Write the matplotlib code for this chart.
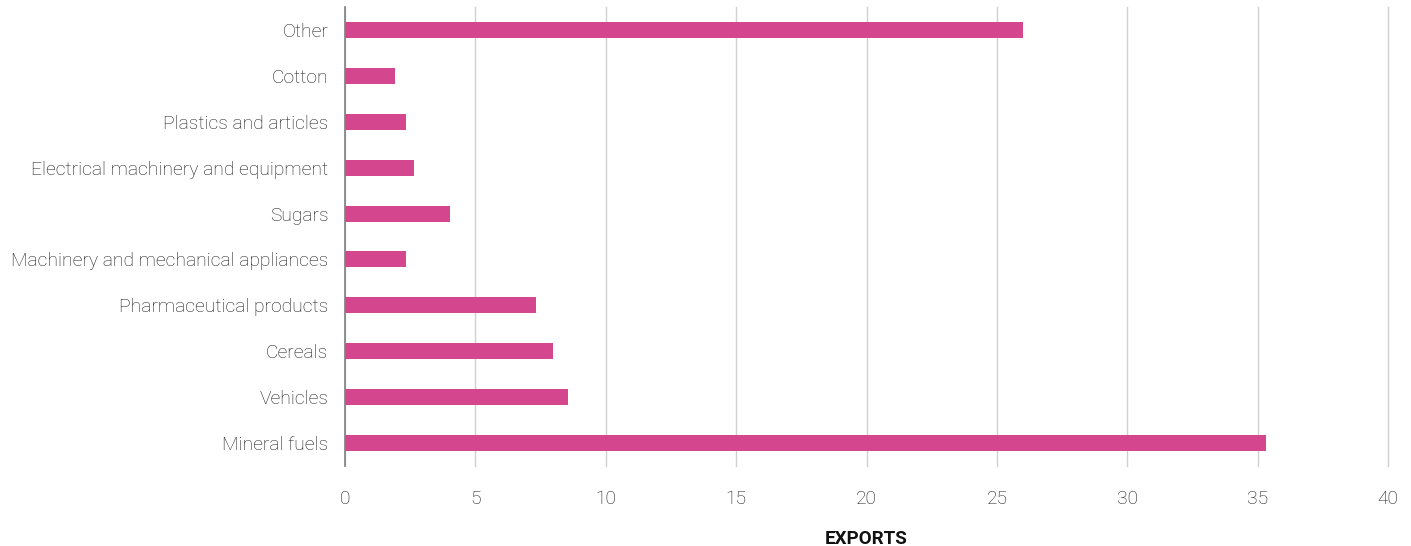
import matplotlib
matplotlib.use('Agg')
import matplotlib.pyplot as plt

plt.rcParams['font.family'] = ['Roboto', 'DejaVu Sans']

# データ（下から上の順）
categories = ['Mineral fuels', 'Vehicles', 'Cereals', 'Pharmaceutical products',
              'Machinery and mechanical appliances', 'Sugars',
              'Electrical machinery and equipment', 'Plastics and articles',
              'Cotton', 'Other']
exports = [35.33, 8.55, 7.98, 7.33, 2.34, 4.03, 2.65, 2.34, 1.92, 26.0]
xticks = [0, 5, 10, 15, 20, 25, 30, 35, 40]

fig = plt.figure(figsize=(14.11, 5.46), dpi=100)
ax = fig.add_axes([345 / 1411, 1 - 466 / 546, (1388 - 345) / 1411, (466 - 7) / 546])

ax.barh(range(len(categories)), exports, height=0.35, color='#d4478f', zorder=3)

ax.set_xlim(0, 40)
ax.set_ylim(-0.5, len(categories) - 0.5)
ax.set_xticks(xticks)
ax.set_yticks(range(len(categories)))
ax.set_yticklabels(categories)

# グリッドと軸の装飾
ax.grid(axis='x', color='#d0d0d0', linewidth=1, zorder=0)
for gl in ax.get_xgridlines():
    gl.set_clip_on(False)
for side in ['top', 'right', 'bottom']:
    ax.spines[side].set_visible(False)
ax.spines['left'].set_color('#808080')
ax.spines['left'].set_linewidth(1.2)
ax.spines['left'].set_zorder(4)

ax.tick_params(axis='both', length=0, colors='#1a1a1a', labelsize=13.9)
ax.tick_params(axis='y', pad=12)
ax.tick_params(axis='x', pad=17)
for lbl in ax.get_xticklabels() + ax.get_yticklabels():
    lbl.set_fontweight('light')

ax.set_xlabel('EXPORTS', fontsize=13.5, fontweight='bold', color='#111111', labelpad=16)

fig.savefig('out.png', dpi=100)
